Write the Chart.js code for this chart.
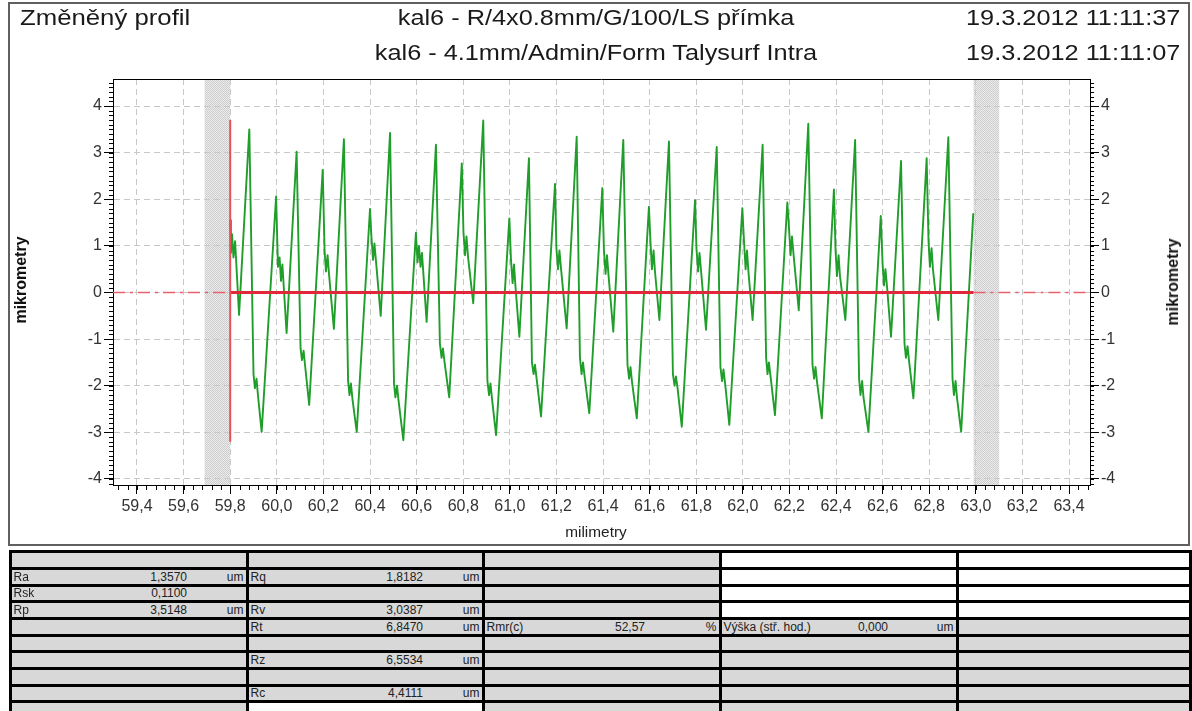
<!DOCTYPE html>
<html>
<head>
<meta charset="utf-8">
<script src="https://cdn.jsdelivr.net/npm/chart.js@4.4.1/dist/chart.umd.min.js"></script>
<style>
  body { margin: 0; background: #fff; font-family: "Liberation Sans", Arial, sans-serif; }
  #page { position: relative; width: 1192px; height: 711px; overflow: hidden; }
  #frame { position: absolute; left: 8px; top: 2px; width: 1178px; height: 540px; border: 2px solid #606060; }
  #plot { position: absolute; left: 0; top: 0; }
  .hd { position: absolute; font-size: 22px; line-height: 24px; color: #1a1a1a; white-space: nowrap; }
  .vt { position: absolute; font-size: 16px; font-weight: bold; color: #111; white-space: nowrap;
        transform: translate(-50%, -50%) rotate(-90deg); }
  .cell { position: absolute; background: #d8d8d8; font-size: 12px; color: #222; overflow: hidden; }
  .cell span { position: absolute; top: 50%; transform: translateY(-50%); white-space: nowrap; }
</style>
</head>
<body>
<div id="page">
  <div id="frame"></div>
  <canvas id="plot" width="1192" height="548"></canvas>
  <div class="hd" style="left:20px; top:6px; transform:scaleX(1.17); transform-origin:0 0;">Změněný profil</div>
  <div class="hd" style="left:0; width:1192px; text-align:center; top:6px; transform:scaleX(1.15);">kal6 - R/4x0.8mm/G/100/LS přímka</div>
  <div class="hd" style="left:0; width:1192px; text-align:center; top:41px; transform:scaleX(1.15);">kal6 - 4.1mm/Admin/Form Talysurf Intra</div>
  <div class="hd" style="right:12px; top:6px; transform:scaleX(1.15); transform-origin:100% 0;">19.3.2012 11:11:37</div>
  <div class="hd" style="right:12px; top:41px; transform:scaleX(1.15); transform-origin:100% 0;">19.3.2012 11:11:07</div>
  <div class="vt" style="left:21px; top:280px;">mikrometry</div>
  <div class="vt" style="left:1173px; top:282px;">mikrometry</div>
  <div style="position:absolute; left:0; width:1192px; text-align:center; top:524px; font-size:14px; color:#222; transform:scaleX(1.1);">milimetry</div>
  <div id="table"></div>
</div>
<script>
// profil (mm, um)
const profileX = [59.800,59.803,59.808,59.814,59.821,59.838,59.882,59.900,59.906,59.913,59.919,59.935,
  59.997,60.005,60.012,60.018,60.024,60.042,60.085,60.102,60.108,60.115,60.121,60.139,
  60.197,60.205,60.211,60.218,60.224,60.245,60.288,60.306,60.312,60.318,60.325,60.343,
  60.400,60.406,60.413,60.419,60.426,60.446,60.486,60.503,60.509,60.516,60.522,60.543,
  60.597,60.604,60.610,60.617,60.623,60.643,60.683,60.700,60.707,60.713,60.720,60.740,
  60.794,60.801,60.808,60.814,60.821,60.843,60.886,60.904,60.911,60.917,60.924,60.941,
  60.998,61.005,61.012,61.018,61.024,61.041,61.082,61.095,61.102,61.108,61.115,61.134,
  61.194,61.200,61.207,61.213,61.220,61.244,61.287,61.301,61.308,61.314,61.321,61.341,
  61.397,61.404,61.411,61.417,61.424,61.444,61.487,61.505,61.512,61.518,61.524,61.545,
  61.597,61.604,61.610,61.617,61.623,61.642,61.683,61.700,61.707,61.713,61.720,61.738,
  61.795,61.801,61.808,61.814,61.821,61.842,61.888,61.904,61.911,61.917,61.924,61.942,
  61.998,62.005,62.012,62.018,62.024,62.042,62.085,62.100,62.106,62.112,62.119,62.138,
  62.191,62.198,62.205,62.211,62.218,62.240,62.281,62.299,62.306,62.312,62.318,62.339,
  62.391,62.398,62.404,62.411,62.417,62.440,62.482,62.499,62.505,62.512,62.518,62.539,
  62.592,62.600,62.606,62.612,62.619,62.636,62.679,62.694,62.700,62.707,62.713,62.732,
  62.789,62.797,62.803,62.810,62.816,62.839,62.882,62.900,62.906,62.913,62.919,62.937,
  62.989];
const profileY = [1.55,0.85,1.25,0.75,1.1,-0.48,3.50,-1.75,-2.05,-1.85,-2.2,-2.99,
  2.06,0.55,0.75,0.25,0.6,-0.87,3.02,-1.2,-1.45,-1.25,-1.55,-2.41,
  2.63,0.9,0.45,0.8,0.4,-0.78,3.29,-1.9,-2.2,-1.95,-2.3,-2.99,
  1.79,1.2,0.7,1.05,0.65,-0.50,3.42,-1.95,-2.25,-2.0,-2.3,-3.17,
  1.28,0.65,1.0,0.55,0.85,-0.63,3.17,-1.1,-1.4,-1.2,-1.5,-2.25,
  2.77,1.3,0.8,1.2,0.75,-0.23,3.69,-1.9,-2.2,-1.95,-2.3,-3.06,
  1.59,0.7,0.2,0.6,0.15,-0.95,2.88,-1.5,-1.75,-1.55,-1.85,-2.66,
  2.33,0.95,0.5,0.9,0.5,-0.77,3.34,-1.4,-1.75,-1.5,-1.8,-2.59,
  2.24,0.9,0.4,0.8,0.35,-0.84,3.27,-1.55,-1.85,-1.6,-1.9,-2.70,
  1.84,1.05,0.5,0.9,0.45,-0.59,3.24,-1.75,-2.0,-1.8,-2.05,-2.88,
  1.98,0.95,0.45,0.85,0.45,-0.80,3.12,-1.6,-1.9,-1.65,-1.95,-2.84,
  1.81,1.1,0.5,0.9,0.45,-0.59,3.17,-1.4,-1.75,-1.5,-1.8,-2.63,
  1.93,1.4,0.8,1.2,0.8,-0.38,3.62,-1.55,-1.85,-1.6,-1.9,-2.70,
  2.21,0.9,0.35,0.8,0.35,-0.59,3.27,-1.85,-2.2,-1.9,-2.25,-2.99,
  1.64,0.6,0.15,0.5,0.12,-0.95,2.82,-1.1,-1.4,-1.15,-1.45,-2.27,
  2.88,1.1,0.55,0.95,0.5,-0.59,3.33,-1.85,-2.2,-1.9,-2.25,-2.99,
  1.70];

const xTicks = [59.4,59.6,59.8,60.0,60.2,60.4,60.6,60.8,61.0,61.2,61.4,61.6,61.8,62.0,62.2,62.4,62.6,62.8,63.0,63.2,63.4];
const yTicks = [-4,-3,-2,-1,0,1,2,3,4];
const xRange = [59.297, 63.49];
const yRange = [-4.13, 4.58];
const cutX = [59.80, 62.99];          // hranice vyhodnocení
const cutY = [3.7, -3.2];             // svislá červená čára
const bands = [[59.69, 59.80], [62.99, 63.10]];

// tabulka parametrů
const tableRows = 10;
const tableCols = [10, 247, 483, 720, 957, 1190];
const tableCells = [
  { r: 1, c: 0, label: 'Ra', value: '1,3570', unit: 'um', vx: 187 },
  { r: 1, c: 1, label: 'Rq', value: '1,8182', unit: 'um', vx: 423 },
  { r: 2, c: 0, label: 'Rsk', value: '0,1100', unit: '', vx: 187 },
  { r: 3, c: 0, label: 'Rp', value: '3,5148', unit: 'um', vx: 187 },
  { r: 3, c: 1, label: 'Rv', value: '3,0387', unit: 'um', vx: 423 },
  { r: 4, c: 1, label: 'Rt', value: '6,8470', unit: 'um', vx: 423 },
  { r: 4, c: 2, label: 'Rmr(c)', value: '52,57', unit: '%', vx: 645 },
  { r: 4, c: 3, label: 'Výška (stř. hod.)', value: '0,000', unit: 'um', vx: 888 },
  { r: 6, c: 1, label: 'Rz', value: '6,5534', unit: 'um', vx: 423 },
  { r: 8, c: 1, label: 'Rc', value: '4,4111', unit: 'um', vx: 423 }
];
const whiteCells = ['0,3','1,3','2,3','3,3','0,4','1,4','2,4','3,4','9,1'];

// === tabulka ===
function renderTable() {
  const box = document.getElementById('table');
  const top = 551.7, pitch = 16.67;
  const bg = document.createElement('div');
  bg.style.cssText = `position:absolute;left:${tableCols[0] - 1.5}px;top:${top - 1.5}px;width:${tableCols[5] - tableCols[0] + 3}px;height:${pitch * tableRows + 3}px;background:#000`;
  box.appendChild(bg);
  for (let r = 0; r < tableRows; r++) {
    for (let c = 0; c < 5; c++) {
      const d = document.createElement('div');
      d.className = 'cell';
      const x0 = tableCols[c] + 1.5, x1 = tableCols[c + 1] - 1.5;
      const y0 = top + r * pitch + 1.5;
      d.style.left = x0 + 'px';
      d.style.top = y0 + 'px';
      d.style.width = (x1 - x0) + 'px';
      d.style.height = (pitch - 3) + 'px';
      if (whiteCells.includes(r + ',' + c)) d.style.background = '#fff';
      const cell = tableCells.find(t => t.r === r && t.c === c);
      if (cell) {
        d.innerHTML = `<span style="left:2px">${cell.label}</span>` +
          `<span style="right:${x1 - cell.vx}px">${cell.value}</span>` +
          `<span style="right:2px">${cell.unit}</span>`;
      }
      box.appendChild(d);
    }
  }
}

// šrafované pásy + vedlejší dílky
const hatch = (() => {
  const c = document.createElement('canvas');
  c.width = 2; c.height = 2;
  const g = c.getContext('2d');
  g.fillStyle = '#ececec'; g.fillRect(0, 0, 2, 2);
  g.fillStyle = '#cdcdcd'; g.fillRect(0, 0, 1, 1); g.fillRect(1, 1, 1, 1);
  return c;
})();

const decor = {
  id: 'decor',
  beforeDraw(chart) {
    const { ctx, chartArea: a, scales: { x } } = chart;
    ctx.save();
    ctx.fillStyle = ctx.createPattern(hatch, 'repeat');
    bands.forEach(b => {
      const p0 = x.getPixelForValue(b[0]), p1 = x.getPixelForValue(b[1]);
      ctx.fillRect(p0, a.top, p1 - p0, a.bottom - a.top);
    });
    ctx.restore();
  },
  afterDraw(chart) {
    const { ctx, chartArea: a, scales: { x, y } } = chart;
    ctx.save();
    ctx.strokeStyle = '#000';
    ctx.lineWidth = 1;
    ctx.beginPath();
    ctx.moveTo(a.left, a.top + 0.5);
    ctx.lineTo(a.right, a.top + 0.5);
    for (let i = 0; i < 105; i++) {
      const v = 59.32 + i * 0.04;
      if (v > xRange[1]) break;
      const px = Math.round(x.getPixelForValue(v)) + 0.5;
      ctx.moveTo(px, a.bottom); ctx.lineTo(px, a.bottom + 5);
    }
    for (let i = -41; i <= 45; i++) {
      const py = Math.round(y.getPixelForValue(i / 10)) + 0.5;
      ctx.moveTo(a.left - 4, py); ctx.lineTo(a.left, py);
      ctx.moveTo(a.right, py); ctx.lineTo(a.right + 4, py);
    }
    ctx.stroke();
    ctx.restore();
  }
};

function yAxis(pos, width, onArea) {
  return {
    type: 'linear',
    position: pos,
    min: yRange[0],
    max: yRange[1],
    afterFit: s => { s.width = width; },
    afterBuildTicks: s => { s.ticks = yTicks.map(v => ({ value: v })); },
    ticks: { color: '#333', font: { size: 16, family: '"Liberation Sans", Arial' }, padding: 2, callback: v => String(v) },
    grid: { color: '#c8c8c8', tickColor: '#000', tickLength: 9, drawOnChartArea: onArea },
    border: { color: '#000', width: 1, dash: [6, 4] }
  };
}

function renderProfile() {
  const profile = profileX.map((x, i) => ({ x: x, y: profileY[i] }));
  new Chart(document.getElementById('plot'), {
    type: 'line',
    data: {
      datasets: [
        { data: [{ x: cutX[0], y: cutY[0] }, { x: cutX[0], y: cutY[1] }], borderColor: '#e8505c', borderWidth: 2 },
        { data: [{ x: cutX[0], y: 0 }, { x: cutX[1], y: 0 }], borderColor: '#e0283a', borderWidth: 2.8 },
        { data: [{ x: xRange[0], y: 0 }, { x: cutX[0], y: 0 }], borderColor: '#e8606c', borderWidth: 1.5, borderDash: [12, 5, 3, 5] },
        { data: [{ x: cutX[1], y: 0 }, { x: xRange[1], y: 0 }], borderColor: '#e8606c', borderWidth: 1.5, borderDash: [12, 5, 3, 5] },
        { data: profile, borderColor: '#1f9e2a', borderWidth: 1.9, borderJoinStyle: 'round' }
      ]
    },
    options: {
      responsive: false,
      animation: false,
      parsing: false,
      elements: { point: { radius: 0 }, line: { tension: 0 } },
      layout: { padding: { top: 79, left: 0, right: 0, bottom: 0 } },
      plugins: { legend: { display: false }, tooltip: { enabled: false } },
      scales: {
        x: {
          type: 'linear',
          min: xRange[0],
          max: xRange[1],
          afterFit: s => { s.height = 63; },
          afterBuildTicks: s => { s.ticks = xTicks.map(v => ({ value: v })); },
          ticks: {
            color: '#333', font: { size: 16, family: '"Liberation Sans", Arial' }, padding: 3,
            autoSkip: false, maxRotation: 0,
            callback: v => v.toFixed(1).replace('.', ',')
          },
          grid: { color: '#c8c8c8', tickColor: '#000', tickLength: 9 },
          border: { color: '#000', width: 1, dash: [6, 4] }
        },
        y: yAxis('left', 113, true),
        y2: yAxis('right', 102, false)
      }
    },
    plugins: [decor]
  });
}

renderTable();
renderProfile();
</script>
</body>
</html>
